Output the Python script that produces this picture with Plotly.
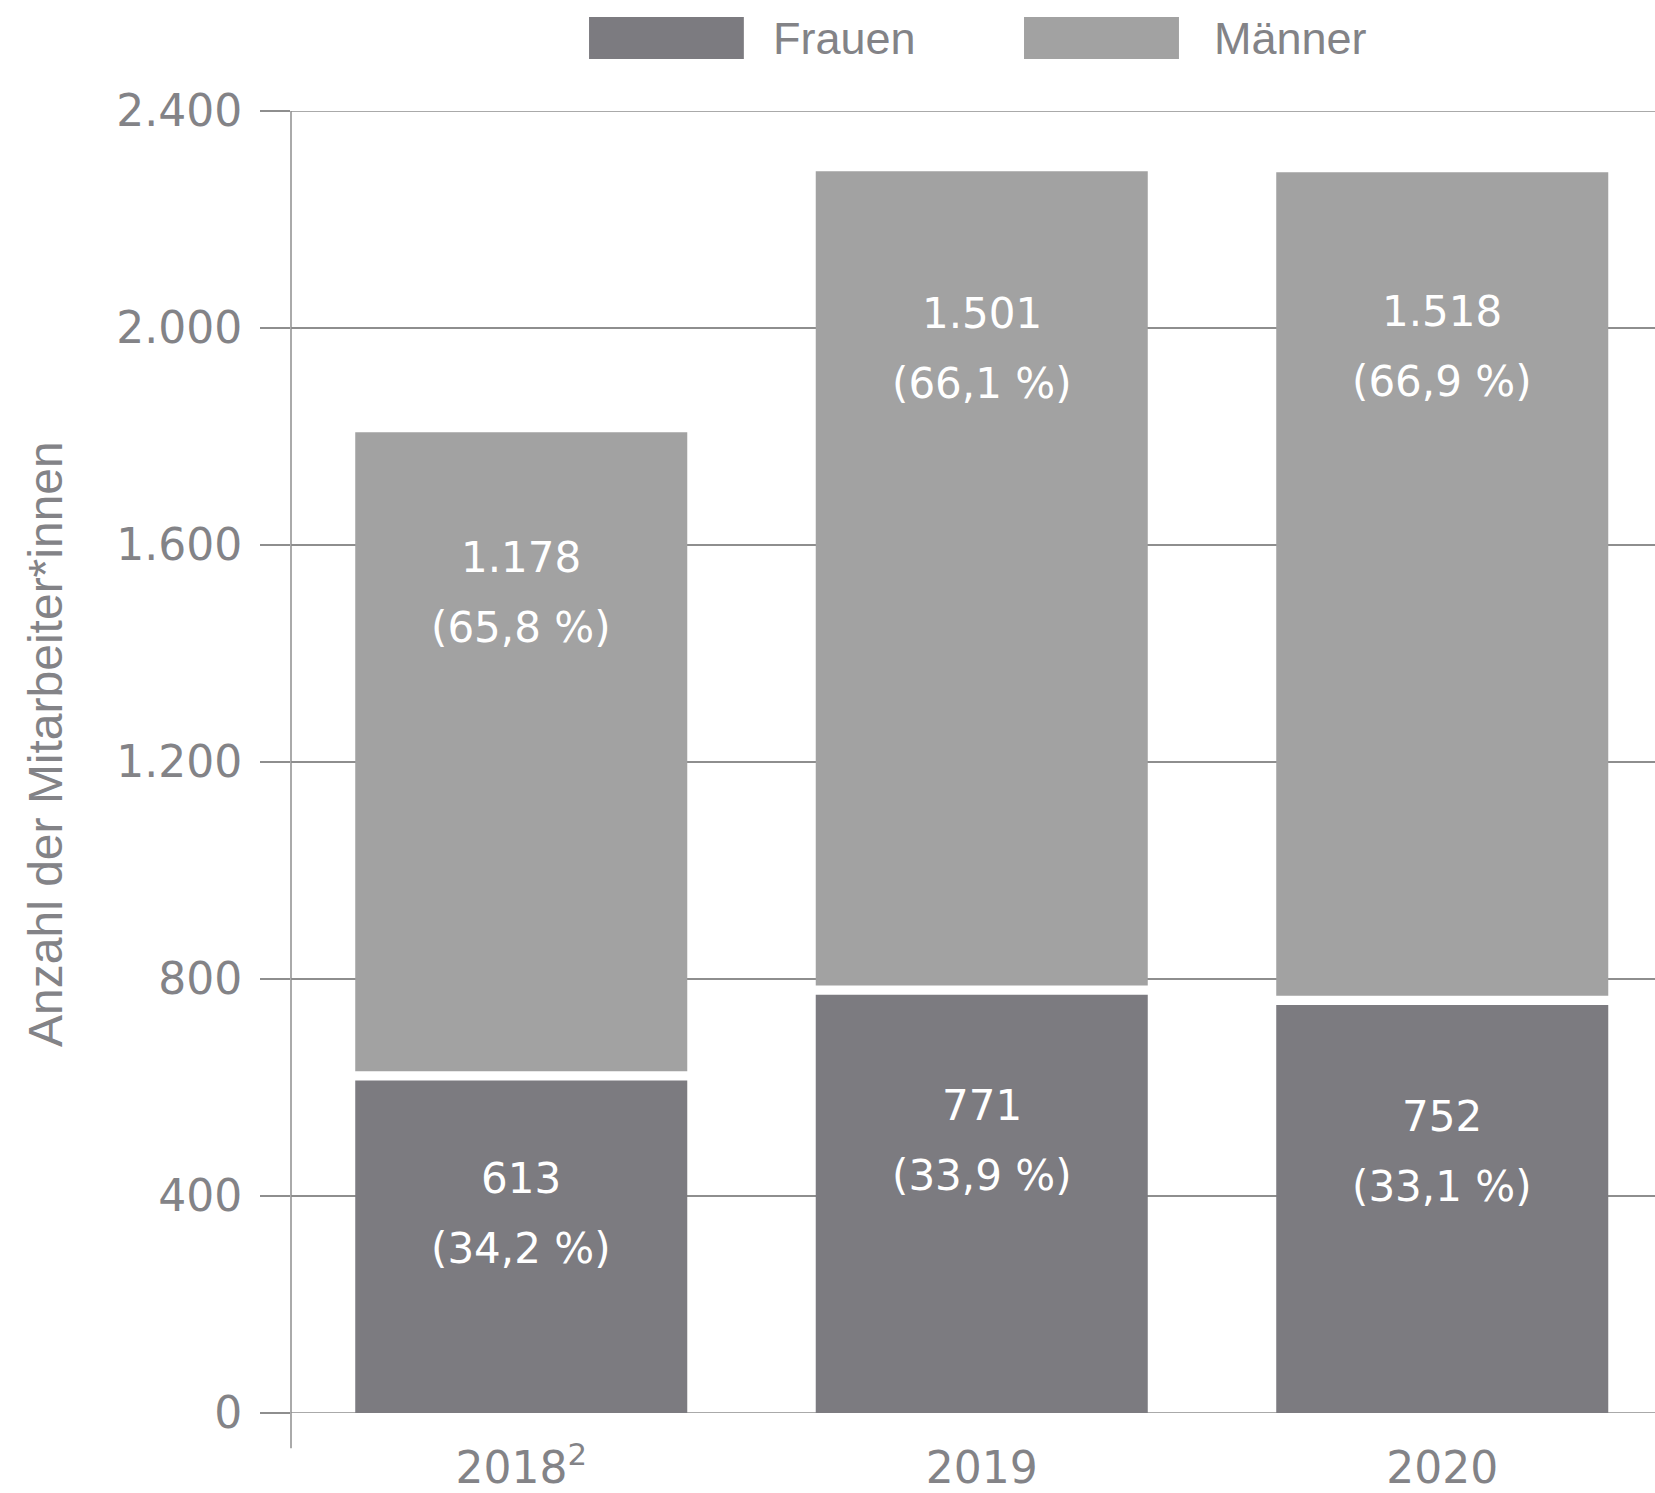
import plotly.graph_objects as go

# ---- data ----
years = ["2018<sup>2</sup>", "2019", "2020"]
frauen = [613, 771, 752]
maenner = [1178, 1501, 1518]
frauen_pct = ["(34,2 %)", "(33,9 %)", "(33,1 %)"]
maenner_pct = ["(65,8 %)", "(66,1 %)", "(66,9 %)"]
y_ticks = [0, 400, 800, 1200, 1600, 2000, 2400]
y_ticktext = ["0", "400", "800", "1.200", "1.600", "2.000", "2.400"]

def de_num(v):
    return f"{v:,}".replace(",", ".")

# ---- style ----
C_F = "#7c7b80"
C_M = "#a2a2a2"
TXT = "#838387"
GRID = "#8e8e8e"
GAP = 17  # visual white separation between stacked segments (data units)
WIDE = "DejaVu Sans"
NARROW = "Liberation Sans"
m_label_px = [125, 142, 139]
f_label_px = [98, 111, 111]
LINE2 = 70

x = list(range(len(years)))
m_base = [f + GAP for f in frauen]

fig = go.Figure()
fig.add_trace(go.Bar(x=x, y=frauen, name="Frauen", marker=dict(color=C_F, line=dict(width=0)),
                     hoverinfo="skip"))
fig.add_trace(go.Bar(x=x, y=maenner, base=m_base, name="Männer",
                     marker=dict(color=C_M, line=dict(width=0)), hoverinfo="skip"))

ann = []
for i in x:
    ftop = frauen[i]
    mtop = m_base[i] + maenner[i]
    for top, v, pct, off in [(mtop, maenner[i], maenner_pct[i], m_label_px[i]),
                             (ftop, frauen[i], frauen_pct[i], f_label_px[i])]:
        ann.append(dict(x=i, y=top, xref="x", yref="y", text=de_num(v), showarrow=False,
                        yanchor="middle", yshift=-off,
                        font=dict(family=WIDE, size=42, color="white")))
        ann.append(dict(x=i, y=top, xref="x", yref="y", text=pct, showarrow=False,
                        yanchor="middle", yshift=-off - LINE2,
                        font=dict(family=WIDE, size=42, color="white")))

# y-axis title
ann.append(dict(x=-0.1795, y=0.514, xref="paper", yref="paper", text="Anzahl der Mitarbeiter*innen",
                textangle=-90, showarrow=False, xanchor="center", yanchor="middle",
                font=dict(family=NARROW, size=48, color=TXT)))

# legend (custom, large swatches)
shapes = []
leg = [("Frauen", C_F, 0.2185, 0.332, 0.352), ("Männer", C_M, 0.5374, 0.651, 0.675)]
for name, col, x0, x1, tx in leg:
    shapes.append(dict(type="rect", xref="paper", yref="paper", x0=x0, x1=x1, y0=1.040, y1=1.0722,
                       fillcolor=col, line=dict(width=0), layer="above"))
    ann.append(dict(x=tx, y=1.0553, xref="paper", yref="paper", text=name, showarrow=False,
                    xanchor="left", yanchor="middle", font=dict(family=NARROW, size=45, color=TXT)))

# gridlines at the range edges (0 and 2400), drawn below bars
for v in (y_ticks[0], y_ticks[-1]):
    shapes.append(dict(type="line", xref="paper", yref="y", x0=0, x1=1, y0=v, y1=v,
                       line=dict(color=GRID, width=1.5), layer="below"))

# y axis line extending below zero
shapes.append(dict(type="line", xref="paper", yref="paper", x0=0, x1=0, y0=-0.027, y1=1,
                   line=dict(color=GRID, width=1.5)))

fig.update_layout(
    width=1655, height=1493,
    margin=dict(l=291, r=0, t=111, b=80),
    paper_bgcolor="white", plot_bgcolor="white",
    barmode="overlay", bargap=0.279,
    showlegend=False,
    annotations=ann, shapes=shapes,
    xaxis=dict(range=[-0.5, 2.462], tickmode="array", tickvals=x, ticktext=years,
               showgrid=False, zeroline=False, showline=False, ticks="",
               tickfont=dict(family=WIDE, size=44, color=TXT), ticklabelstandoff=25),
    yaxis=dict(range=[0, 2400], tickmode="array", tickvals=y_ticks, ticktext=y_ticktext,
               showgrid=True, gridcolor=GRID, gridwidth=1.5, zeroline=False, showline=False,
               ticks="outside", ticklen=30, tickcolor=GRID, tickwidth=1.5,
               tickfont=dict(family=WIDE, size=44, color=TXT), ticklabelstandoff=9),
)

fig.write_html("out.html")
